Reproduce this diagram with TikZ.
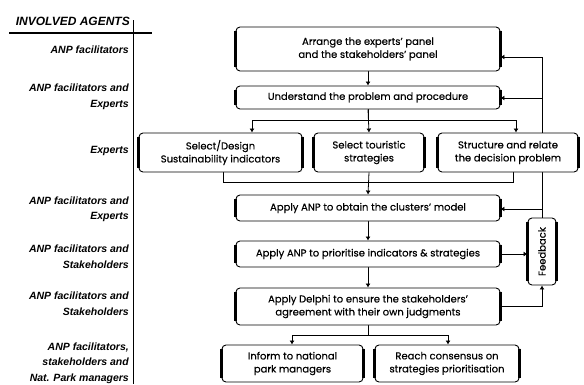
\documentclass[tikz,border=0pt]{standalone}
\usepackage{fontspec}
\setmainfont{Poppins}[FakeBold=0.35]
\newfontfamily\agentfont{Liberation Sans}
\usetikzlibrary{arrows.meta,backgrounds,calc}

\begin{document}
\begin{tikzpicture}[x=1pt,y=-1pt,
  boxfont/.style={font=\fontsize{10}{13}\selectfont},
  box/.style={draw, line width=0.9pt, rounded corners=4pt, fill=white,
    align=center, inner sep=0pt, boxfont},
  side/.style={line width=2.4pt},
  conn/.style={line width=0.8pt},
  arr/.style={conn, -{Latex[length=4pt,width=5pt]}},
  agent/.style={anchor=east, align=right, inner sep=0pt,
    font=\agentfont\bfseries\itshape\fontsize{10.5}{15.5}\selectfont}]

\useasboundingbox (0,0) rectangle (584,384);

% agents column
\draw[line width=0.8pt] (133,20) -- (133,384);
\draw[line width=1.8pt] (9,33) -- (152,33);
\node[agent, font=\agentfont\bfseries\itshape\fontsize{12}{14}\selectfont] (hdr) at (130,21) {INVOLVED AGENTS};
\node[agent] (a1) at (129,50) {ANP facilitators};
\node[agent] (a2) at (129,97) {ANP facilitators and\\Experts};
\node[agent] (a3) at (129,151) {Experts};
\node[agent] (a4) at (129,209.5) {ANP facilitators and\\Experts};
\node[agent] (a5) at (129,256.5) {ANP facilitators and\\Stakeholders};
\node[agent] (a6) at (129,303.5) {ANP facilitators and\\Stakeholders};
\node[agent] (a7) at (129,363) {ANP facilitators,\\stakeholders and\\Nat. Park managers};

% process steps
\node[box, minimum width=264pt, minimum height=44pt] (b1) at (368,49) {Arrange the experts' panel\\and the stakeholders' panel};
\node[box, minimum width=264pt, minimum height=23pt] (b2) at (368,97.5) {Understand the problem and procedure};
\node[box, minimum width=163pt, minimum height=39pt] (b3a) at (220.5,152.5) {Select/Design\\Sustainability indicators};
\node[box, minimum width=110pt, minimum height=39pt] (b3b) at (369,152.5) {Select touristic\\strategies};
\node[box, minimum width=140pt, minimum height=39pt] (b3c) at (508,152.5) {Structure and relate\\the decision problem};
\node[box, minimum width=264pt, minimum height=26pt] (b4) at (368,208) {Apply ANP to obtain the clusters' model};
\node[box, minimum width=264pt, minimum height=26pt] (b5) at (368,254) {Apply ANP to prioritise indicators \& strategies};
\node[box, minimum width=264pt, minimum height=37pt] (b6) at (368,306.5) {Apply Delphi to ensure the stakeholders'\\agreement with their own judgments};
\node[box, minimum width=141pt, minimum height=37pt] (b7a) at (292.5,363.5) {Inform to national\\park managers};
\node[box, minimum width=144pt, minimum height=37pt] (b7b) at (447,363.5) {Reach consensus on\\strategies prioritisation};
\node[box, minimum width=28pt, minimum height=67pt] (fb) at (542,251.5) {};
\node[boxfont, rotate=90, inner sep=0pt] (fbt) at (fb.center) {Feedback};

% heavier left and right sides of every box
\foreach \n in {b1,b2,b3a,b3b,b3c,b4,b5,b6,b7a,b7b,fb} {
  \draw[side] ([yshift=-4pt]\n.north west) -- ([yshift=4pt]\n.south west);
  \draw[side] ([yshift=-4pt]\n.north east) -- ([yshift=4pt]\n.south east);
}

% connectors
\begin{pgfonlayer}{background}
\coordinate (s2l) at (252,120);
\coordinate (s2r) at (516,120);
\coordinate (m3l) at (223,182);
\coordinate (m3r) at (513,182);
\coordinate (s6l) at (292,335);
\coordinate (s6r) at (448,335);
\coordinate (j1) at (542,57);
\coordinate (j2) at (542,98);
\coordinate (j4) at (542,209);

\draw[arr] (b1.south) -- (b2.north);
\draw[conn] (b2.south) -- (b2.south |- s2l);
\draw[conn] (s2l) -- (s2r);
\draw[arr] (s2l) -- (s2l |- b3a.north);
\draw[arr] (b2.south) -- (b3b.north);
\draw[arr] (s2r) -- (s2r |- b3c.north);
\draw[conn] (m3l |- b3a.south) -- (m3l) -- (m3r) -- (m3r |- b3c.south);
\draw[arr] (b3b.south) -- (b4.north);
\draw[arr] (b4.south) -- (b5.north);
\draw[arr] (b5.south) -- (b6.north);
\draw[conn] (b6.south) -- (b6.south |- s6l);
\draw[conn] (s6l) -- (s6r);
\draw[arr] (s6l) -- (s6l |- b7a.north);
\draw[arr] (s6r) -- (s6r |- b7b.north);

\draw[arr] (b5.east) -- (b5.east -| fb.west);
\draw[arr] (b6.east) -- (b6.east -| fb.south) -- (fb.south);
\draw[conn] (fb.north) -- (j1);
\draw[arr] (j1) -- (j1 -| b1.east);
\draw[arr] (j2) -- (j2 -| b2.east);
\draw[arr] (j4) -- (j4 -| b4.east);
\end{pgfonlayer}
\end{tikzpicture}
\end{document}
